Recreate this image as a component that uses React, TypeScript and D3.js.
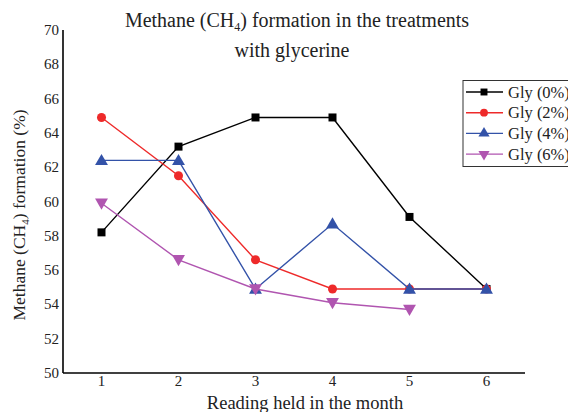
import React from "react";
import * as d3 from "d3";

const readings = [1, 2, 3, 4, 5, 6];
const gly0 = [58.2, 63.2, 64.9, 64.9, 59.1, 54.9];
const gly2 = [64.9, 61.5, 56.6, 54.9, 54.9, 54.9];
const gly4 = [62.4, 62.4, 54.9, 58.7, 54.9, 54.9];
const gly6 = [59.9, 56.6, 54.9, 54.1, 53.7];
const yTicks = [50, 52, 54, 56, 58, 60, 62, 64, 66, 68, 70];
const seriesNames = ["Gly (0%)", "Gly (2%)", "Gly (4%)", "Gly (6%)"];

const colors = ["#000000", "#ee2a2a", "#3352a8", "#b055b0"];
const symbols = [d3.symbolSquare, d3.symbolCircle, d3.symbolTriangle, d3.symbolTriangle];
const symSizes = [64, 64, 72, 72];
const rotations = [0, 0, 0, 180];

const W = 568, H = 412;
const left = 63, right = 525, top = 30, bottom = 373;
const FONT = "'Liberation Serif', 'Times New Roman', serif";

export default function App() {
  const x = d3.scaleLinear().domain([0.5, 6.5]).range([left, right]);
  const y = d3.scaleLinear().domain([50, 70]).range([bottom, top]);
  const data = [gly0, gly2, gly4, gly6];
  const line = d3.line<number>().x((_, i) => x(readings[i])).y((d) => y(d));

  return (
    <svg width={W} height={H} style={{ position: "absolute", left: 0, top: 0, background: "#fff" }} fontFamily={FONT}>
      <rect width={W} height={H} fill="#fff" />
      {/* Title */}
      <text x={297} y={27} textAnchor="middle" fontSize={20} fill="#222">
        Methane (CH<tspan fontSize={12} dy={4}>4</tspan><tspan dy={-4}>) formation in the treatments</tspan>
      </text>
      <text x={292} y={57} textAnchor="middle" fontSize={20} fill="#222">with glycerine</text>

      {/* Axes */}
      <line x1={left} x2={left} y1={top} y2={bottom} stroke="#000" strokeWidth={1.6} />
      <line x1={left} x2={right} y1={bottom} y2={bottom} stroke="#000" strokeWidth={1.6} />
      {yTicks.map((t) => (
        <text key={t} x={left - 4} y={y(t) + 5} textAnchor="end" fontSize={15} fill="#222">{t}</text>
      ))}
      {readings.map((t) => (
        <text key={t} x={x(t)} y={bottom + 13} textAnchor="middle" fontSize={15} fill="#222">{t}</text>
      ))}
      <text x={305} y={409} textAnchor="middle" fontSize={18.5} fill="#222">Reading held in the month</text>
      <text transform={`translate(25,${215}) rotate(-90)`} textAnchor="middle" fontSize={17.5} fill="#222">
        Methane (CH<tspan fontSize={11} dy={4}>4</tspan><tspan dy={-4}>) formation (%)</tspan>
      </text>

      {/* Series */}
      {data.map((s, si) => (
        <g key={si}>
          <path d={line(s) || ""} fill="none" stroke={colors[si]} strokeWidth={1.4} />
          {s.map((v, i) => (
            <path key={i} d={d3.symbol().type(symbols[si]).size(symSizes[si])() || ""}
              transform={`translate(${x(readings[i])},${y(v) + (si >= 2 ? (si === 3 ? -1 : 1) : 0)}) rotate(${rotations[si]})`}
              fill={colors[si]} />
          ))}
        </g>
      ))}

      {/* Legend */}
      <rect x={463} y={80.5} width={120} height={86} fill="#fff" stroke="#333" strokeWidth={1} />
      {seriesNames.map((n, i) => {
        const ly = 92 + i * 20.7;
        return (
          <g key={n}>
            <line x1={466} x2={503} y1={ly} y2={ly} stroke={colors[i]} strokeWidth={1.4} />
            <path d={d3.symbol().type(symbols[i]).size(symSizes[i] * 0.75)() || ""}
              transform={`translate(484,${ly}) rotate(${rotations[i]})`} fill={colors[i]} />
            <text x={508} y={ly + 5.5} fontSize={16.5} fill="#222">{n}</text>
          </g>
        );
      })}
    </svg>
  );
}
